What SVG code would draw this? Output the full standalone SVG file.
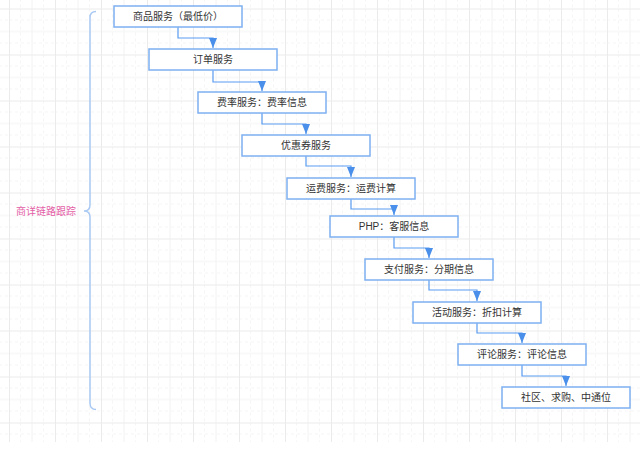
<svg xmlns="http://www.w3.org/2000/svg" width="640" height="452" viewBox="0 0 640 452">
<defs>
<pattern id="grid" patternUnits="userSpaceOnUse" x="9" y="8.5" width="46" height="46">
<path d="M11.5 0V46M34.5 0V46M0 11.5H46M0 34.5H46" stroke="#f5f5f5" stroke-width="1" stroke-dasharray="3 3" fill="none"/>
<path d="M23 0V46M0 23H46" stroke="#f2f2f2" stroke-width="1" fill="none"/>
<path d="M0.5 0V46M0 0.5H46" stroke="#ebebeb" stroke-width="1" fill="none"/>
</pattern>
<marker id="arr" viewBox="0 0 10 8" refX="10" refY="4" markerWidth="10" markerHeight="8" markerUnits="userSpaceOnUse" orient="auto">
<path d="M0 0L10 4L0 8Z" fill="#4a8fea"/>
</marker>
<style>
.box{fill:#fff;stroke:#7eb0f2;stroke-width:1.5}
.t{font-family:"Liberation Sans","Noto Sans CJK SC",sans-serif;font-size:10px;fill:#333;text-anchor:middle}
.c{fill:none;stroke:#5a9bf0;stroke-width:1.2}
</style>
</defs>
<rect width="640" height="452" fill="#fff"/>
<rect width="640" height="442" fill="url(#grid)"/>
<g id="label">
<path d="M96 11.5Q90 11.5 90 17.5V205Q90 211 84 211Q90 211 90 217V403Q90 409.5 96 409.5" fill="none" stroke="#a9c9f4" stroke-width="1.5"/>
<text x="46" y="214.5" style="font-family:'Liberation Sans','Noto Sans CJK SC',sans-serif;font-size:10px;fill:#e35ea6;text-anchor:middle">商详链路跟踪</text>
</g>
<g id="connectors">
<path class="c" d="M178 27V38H213V48" marker-end="url(#arr)"/>
<path class="c" d="M213 70V82H262V91" marker-end="url(#arr)"/>
<path class="c" d="M262 113V124H306V134" marker-end="url(#arr)"/>
<path class="c" d="M306 156V166H351V177" marker-end="url(#arr)"/>
<path class="c" d="M351 199V209H394V215" marker-end="url(#arr)"/>
<path class="c" d="M394 237V248H429V258" marker-end="url(#arr)"/>
<path class="c" d="M429 280V290H477V301" marker-end="url(#arr)"/>
<path class="c" d="M477 323V333H522V343" marker-end="url(#arr)"/>
<path class="c" d="M522 365V376H566V386" marker-end="url(#arr)"/>
</g>
<g id="n1"><rect class="box" x="114" y="6" width="128" height="21"/><text class="t" x="178" y="20">商品服务（最低价）</text></g>
<g id="n2"><rect class="box" x="149" y="49" width="128" height="21"/><text class="t" x="213" y="63">订单服务</text></g>
<g id="n3"><rect class="box" x="198" y="92" width="128" height="21"/><text class="t" x="262" y="106">费率服务：费率信息</text></g>
<g id="n4"><rect class="box" x="242" y="135" width="128" height="21"/><text class="t" x="306" y="149">优惠券服务</text></g>
<g id="n5"><rect class="box" x="287" y="178" width="128" height="21"/><text class="t" x="351" y="192">运费服务：运费计算</text></g>
<g id="n6"><rect class="box" x="330" y="216" width="128" height="21"/><text class="t" x="394" y="230">PHP：客服信息</text></g>
<g id="n7"><rect class="box" x="365" y="259" width="128" height="21"/><text class="t" x="429" y="273">支付服务：分期信息</text></g>
<g id="n8"><rect class="box" x="413" y="302" width="128" height="21"/><text class="t" x="477" y="316">活动服务：折扣计算</text></g>
<g id="n9"><rect class="box" x="458" y="344" width="128" height="21"/><text class="t" x="522" y="358">评论服务：评论信息</text></g>
<g id="n10"><rect class="box" x="502" y="387" width="128" height="21"/><text class="t" x="566" y="401">社区、求购、中通位</text></g>
</svg>
